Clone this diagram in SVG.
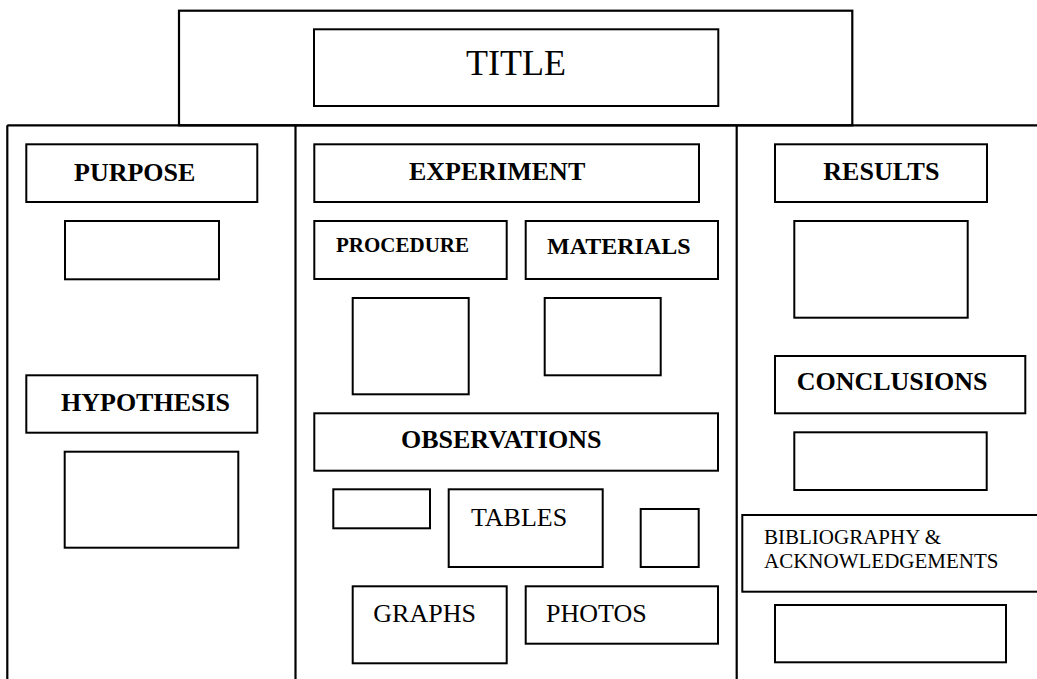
<svg xmlns="http://www.w3.org/2000/svg" width="1037" height="679" viewBox="0 0 1037 679">
<style>
  .box { fill: #fff; stroke: #000; stroke-width: 2; }
  .frame { fill: none; stroke: #000; stroke-width: 2.2; }
  .h { font-family: "Liberation Serif", "Times New Roman", serif; font-weight: bold; font-size: 26px; fill: #000; }
  .t { font-family: "Liberation Serif", "Times New Roman", serif; font-size: 26px; fill: #000; }
  .s21 { font-size: 21px; }
  .s24 { font-size: 24px; }
  .s36 { font-size: 36px; }
</style>
<rect x="0" y="0" width="1037" height="679" fill="#fff"/>
<g id="board-frame">
  <rect class="frame" x="179" y="10.7" width="673.3" height="114.6"/>
  <line class="frame" x1="7.3" y1="125.3" x2="1037" y2="125.3"/>
  <line class="frame" x1="7.3" y1="125.3" x2="7.3" y2="679"/>
  <line class="frame" x1="295.5" y1="125.3" x2="295.5" y2="679"/>
  <line class="frame" x1="736.7" y1="125.3" x2="736.7" y2="679"/>
</g>
<g id="title">
  <rect class="box" x="314" y="29.3" width="404.3" height="76.7"/>
  <text class="t s36" x="516" y="74.5" text-anchor="middle">TITLE</text>
</g>
<g id="purpose">
  <rect class="box" x="26.3" y="144.3" width="231" height="57.7"/>
  <text class="h" x="74" y="180.5">PURPOSE</text>
</g>
<g id="purpose-content"><rect class="box" x="65" y="221" width="154" height="58.3"/></g>
<g id="hypothesis">
  <rect class="box" x="26.3" y="375.3" width="231" height="57.4"/>
  <text class="h" x="61" y="411">HYPOTHESIS</text>
</g>
<g id="hypothesis-content"><rect class="box" x="64.7" y="451.7" width="173.6" height="96"/></g>
<g id="experiment">
  <rect class="box" x="314.3" y="144.3" width="384.7" height="57.7"/>
  <text class="h" x="409" y="180">EXPERIMENT</text>
</g>
<g id="procedure">
  <rect class="box" x="314.3" y="221" width="192.4" height="58"/>
  <text class="h s21" x="336" y="252">PROCEDURE</text>
</g>
<g id="materials">
  <rect class="box" x="525.7" y="221" width="192.3" height="58"/>
  <text class="h s24" x="547" y="254">MATERIALS</text>
</g>
<g id="procedure-content"><rect class="box" x="352.7" y="298" width="116" height="96.3"/></g>
<g id="materials-content"><rect class="box" x="544.7" y="298" width="116" height="77.3"/></g>
<g id="observations">
  <rect class="box" x="314.3" y="413.3" width="403.7" height="57.4"/>
  <text class="h" x="401" y="448.3">OBSERVATIONS</text>
</g>
<g id="obs-small"><rect class="box" x="333.3" y="489.3" width="96.7" height="39"/></g>
<g id="tables">
  <rect class="box" x="448.7" y="489.3" width="154" height="77.7"/>
  <text class="t" x="471" y="526">TABLES</text>
</g>
<g id="obs-square"><rect class="box" x="640.7" y="509" width="58" height="58"/></g>
<g id="graphs">
  <rect class="box" x="352.7" y="586.3" width="154" height="77"/>
  <text class="t" x="373.3" y="621.7">GRAPHS</text>
</g>
<g id="photos">
  <rect class="box" x="525.7" y="586.3" width="192.3" height="57.4"/>
  <text class="t" x="546" y="621.7">PHOTOS</text>
</g>
<g id="results">
  <rect class="box" x="775" y="144.3" width="212" height="57.7"/>
  <text class="h" x="823.3" y="180">RESULTS</text>
</g>
<g id="results-content"><rect class="box" x="794.3" y="221" width="173.4" height="96.7"/></g>
<g id="conclusions">
  <rect class="box" x="775" y="356" width="250.3" height="57.3"/>
  <text class="h" x="796.7" y="390">CONCLUSIONS</text>
</g>
<g id="conclusions-content"><rect class="box" x="794.3" y="432.3" width="192.4" height="57.7"/></g>
<g id="bibliography">
  <rect class="box" x="742.3" y="515" width="310" height="76.7"/>
  <text class="t s21" x="764" y="544.3">BIBLIOGRAPHY &amp;</text>
  <text class="t s21" x="764" y="568.3">ACKNOWLEDGEMENTS</text>
</g>
<g id="bibliography-content"><rect class="box" x="775" y="605" width="231" height="57.3"/></g>
</svg>
